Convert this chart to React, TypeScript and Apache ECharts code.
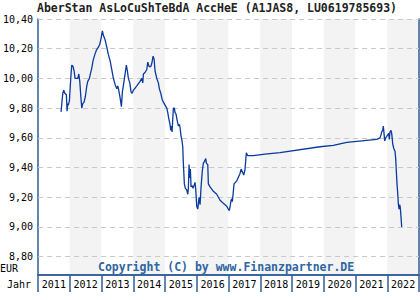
import React, { useEffect, useRef } from "react";
import * as echarts from "echarts";

const title = "AberStan AsLoCuShTeBdA AccHeE (A1JAS8, LU0619785693)";
const yearLabels = ["2011", "2012", "2013", "2014", "2015", "2016", "2017", "2018", "2019", "2020", "2021", "2022"];
const priceMin = 8.8;
const priceMax = 10.4;
const priceStep = 0.2;

// decimal year of each observation
const times = [
  2011.724, 2011.746, 2011.778, 2011.809, 2011.841, 2011.891, 2011.913, 2011.935, 2011.954, 2011.986,
  2012.017, 2012.039, 2012.061, 2012.102, 2012.134, 2012.165, 2012.25, 2012.282, 2012.313, 2012.345,
  2012.376, 2012.408, 2012.449, 2012.49, 2012.534, 2012.565, 2012.616, 2012.647, 2012.691, 2012.732,
  2012.786, 2012.836, 2012.899, 2012.943, 2012.984, 2013.025, 2013.057, 2013.11, 2013.164, 2013.214,
  2013.268, 2013.321, 2013.372, 2013.425, 2013.479, 2013.51, 2013.542, 2013.583, 2013.624, 2013.655,
  2013.699, 2013.74, 2013.781, 2013.813, 2013.844, 2013.888, 2013.929, 2013.961, 2014.002, 2014.109,
  2014.213, 2014.266, 2014.298, 2014.317, 2014.37, 2014.424, 2014.455, 2014.496, 2014.55, 2014.581,
  2014.622, 2014.654, 2014.685, 2014.739, 2014.789, 2014.82, 2014.865, 2014.906, 2014.946, 2015.0,
  2015.054, 2015.085, 2015.117, 2015.148, 2015.18, 2015.198, 2015.22, 2015.243, 2015.261, 2015.293,
  2015.315, 2015.346, 2015.378, 2015.419, 2015.45, 2015.472, 2015.504, 2015.535, 2015.557, 2015.576,
  2015.608, 2015.639, 2015.683, 2015.715, 2015.734, 2015.756, 2015.778, 2015.797, 2015.819, 2015.85,
  2015.882, 2015.913, 2015.945, 2015.967, 2015.998, 2016.03, 2016.071, 2016.102, 2016.134, 2016.175,
  2016.206, 2016.238, 2016.282, 2016.301, 2016.345, 2016.364, 2016.417, 2016.521, 2016.628, 2016.732,
  2016.836, 2016.943, 2016.994, 2017.025, 2017.057, 2017.079, 2017.101, 2017.12, 2017.142, 2017.173,
  2017.258, 2017.362, 2017.394, 2017.416, 2017.479, 2017.52, 2017.542, 2017.561, 2017.605, 2017.781,
  2018.15, 2018.622, 2019.882, 2020.301, 2020.723, 2021.195, 2021.668, 2021.772, 2021.803, 2021.825,
  2021.857, 2021.876, 2021.898, 2021.92, 2021.951, 2021.983, 2022.014, 2022.046, 2022.065, 2022.087,
  2022.118, 2022.14, 2022.172, 2022.203, 2022.244, 2022.266, 2022.285, 2022.307, 2022.329, 2022.348,
  2022.37, 2022.392, 2022.411, 2022.433, 2022.455,
];

// fund price in EUR
const prices = [
  9.775, 9.83, 9.9, 9.92, 9.9, 9.89, 9.78, 9.83, 9.82, 9.85,
  9.96, 10.03, 10.09, 10.08, 10.05, 10.0, 10.0, 10.03, 9.98, 9.88,
  9.8, 9.83, 9.84, 9.88, 9.95, 9.98, 10.0, 10.03, 10.07, 10.12,
  10.16, 10.19, 10.21, 10.23, 10.27, 10.32, 10.29, 10.26, 10.21, 10.16,
  10.12, 10.06, 10.0, 9.96, 9.93, 9.95, 9.92, 9.87, 9.81, 9.91,
  9.97, 10.03, 10.09, 10.05, 10.0, 9.97, 9.91, 9.9, 9.92, 9.95,
  9.98, 10.0, 9.97, 10.03, 10.04, 10.06, 10.11, 10.08, 10.08, 10.1,
  10.15, 10.13, 10.05, 10.0, 9.97, 9.93, 9.9, 9.86, 9.84, 9.82,
  9.8, 9.77, 9.73, 9.7, 9.65, 9.68, 9.64, 9.73, 9.8, 9.8,
  9.77, 9.76, 9.72, 9.68, 9.69, 9.67, 9.61, 9.58, 9.54, 9.43,
  9.29, 9.26, 9.25, 9.22, 9.26, 9.42, 9.33, 9.39, 9.27, 9.28,
  9.26, 9.28, 9.3, 9.25, 9.14, 9.12, 9.2, 9.15, 9.27, 9.38,
  9.43, 9.44, 9.46, 9.43, 9.42, 9.29, 9.27, 9.24, 9.22, 9.18,
  9.16, 9.14, 9.12, 9.11, 9.15, 9.18, 9.19, 9.17, 9.22, 9.29,
  9.31, 9.36, 9.39, 9.38, 9.35, 9.39, 9.45, 9.5, 9.48, 9.48,
  9.49, 9.5, 9.54, 9.55, 9.57, 9.58, 9.59, 9.6, 9.62, 9.64,
  9.65, 9.68, 9.63, 9.58, 9.6, 9.61, 9.62, 9.63, 9.59, 9.64,
  9.65, 9.63, 9.56, 9.53, 9.51, 9.46, 9.38, 9.29, 9.23, 9.16,
  9.12, 9.15, 9.13, 9.07, 9.0,
];

const AXIS_BLUE = "#2f5d97";
const MONO = "'DejaVu Sans Mono', 'Liberation Mono', monospace";

export default function App() {
  const ref = useRef<HTMLDivElement>(null);

  useEffect(() => {
    if (!ref.current) return;
    const chart = echarts.init(ref.current, undefined, { renderer: "svg" });
    const firstYear = Number(yearLabels[0]);
    const lastYear = Number(yearLabels[yearLabels.length - 1]) + 1;
    chart.setOption({
      animation: false,
      backgroundColor: "#ffffff",
      grid: [
        { left: 38, right: 1, top: 19, bottom: 25, containLabel: false },
        { left: 38, right: 1, top: 19, bottom: 43.3, containLabel: false },
      ],
      xAxis: [
        {
          type: "category",
          gridIndex: 0,
          data: yearLabels,
          boundaryGap: true,
          z: 0,
          axisLine: { show: true, lineStyle: { color: AXIS_BLUE, width: 1.5 } },
          axisTick: { show: true, length: 17, lineStyle: { color: AXIS_BLUE, width: 1.5 } },
          axisLabel: { show: true, fontFamily: MONO, fontSize: 10, color: "#000", margin: 4 },
          splitArea: { show: true, areaStyle: { color: ["#ffffff", "#f3f3f3"] } },
          splitLine: { show: false },
        },
        {
          type: "category",
          gridIndex: 0,
          data: yearLabels,
          position: "bottom",
          offset: 17,
          axisLine: { show: true, lineStyle: { color: AXIS_BLUE, width: 1.5 } },
          axisTick: { show: false },
          axisLabel: { show: false },
          splitLine: { show: false },
        },
        {
          type: "value",
          gridIndex: 1,
          min: firstYear,
          max: lastYear,
          show: false,
        },
      ],
      yAxis: [
        {
          type: "value",
          gridIndex: 0,
          min: 0,
          max: 1,
          position: "left",
          axisLine: { show: true, lineStyle: { color: AXIS_BLUE, width: 1.5 } },
          axisTick: { show: false },
          axisLabel: { show: false },
          splitLine: { show: false },
        },
        {
          type: "value",
          gridIndex: 0,
          min: 0,
          max: 1,
          position: "right",
          axisLine: { show: true, lineStyle: { color: AXIS_BLUE, width: 1.5 } },
          axisTick: { show: false },
          axisLabel: { show: false },
          splitLine: { show: false },
        },
        {
          type: "value",
          gridIndex: 1,
          min: priceMin,
          max: priceMax,
          interval: priceStep,
          z: 1,
          axisLine: { show: false },
          axisTick: { show: false },
          axisLabel: {
            fontFamily: MONO,
            fontSize: 10,
            color: "#000",
            margin: 5,
            formatter: (v: number) => v.toFixed(2).replace(".", ","),
          },
          splitLine: { show: true, lineStyle: { color: "#c8c8c8", type: [5, 4], width: 1 } },
        },
      ],
      graphic: [
        {
          type: "text",
          left: 37,
          top: 2,
          z: 10,
          style: { text: title, font: `bold 11.5px ${MONO}`, fill: "#222" },
        },
        {
          type: "text",
          left: 0,
          top: 263,
          z: 10,
          style: { text: "EUR", font: `10px ${MONO}`, fill: "#000" },
        },
        {
          type: "text",
          left: 7,
          top: 279,
          z: 10,
          style: { text: "Jahr", font: `10px ${MONO}`, fill: "#000" },
        },
        {
          type: "text",
          left: 98,
          top: 261,
          z: 10,
          style: { text: "Copyright (C) by www.Finanzpartner.DE", font: `bold 11.5px ${MONO}`, fill: "#2e65a3" },
        },
      ],
      series: [
        {
          type: "line",
          xAxisIndex: 2,
          yAxisIndex: 2,
          data: times.map((t, i) => [t, prices[i]]),
          showSymbol: false,
          symbol: "none",
          lineStyle: { color: "#0a3a9e", width: 1.3 },
          z: 3,
        },
      ],
    });
    return () => chart.dispose();
  }, []);

  return (
    <div
      ref={ref}
      style={{ position: "fixed", left: 0, top: 0, width: 420, height: 300 }}
    />
  );
}
